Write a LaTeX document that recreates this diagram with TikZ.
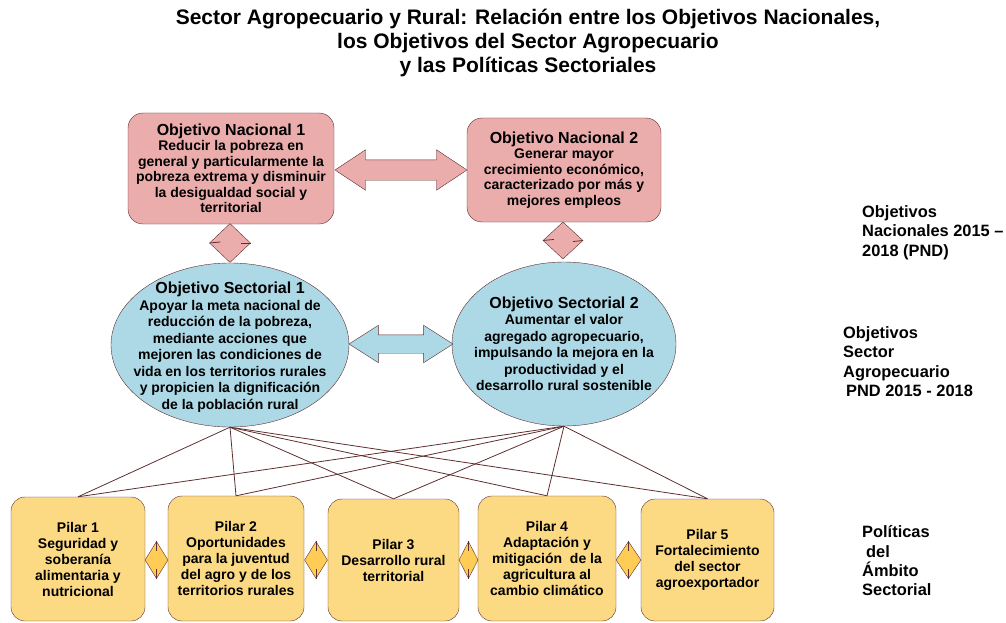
\documentclass[tikz,border=0pt]{standalone}
\usepackage{fontspec}
\setmainfont{Liberation Sans}
\usetikzlibrary{shapes.geometric}
\usetikzlibrary{shapes.arrows}

\definecolor{linebrown}{RGB}{94,46,46}
\definecolor{nacpink}{RGB}{235,172,172}
\definecolor{secblue}{RGB}{173,216,230}
\definecolor{pilaryellow}{RGB}{252,218,132}
\definecolor{joinyellow}{RGB}{255,204,85}

\newcommand{\hdsize}{\fontsize{16}{18}\selectfont}

\begin{document}
\begin{tikzpicture}[x=1pt,y=-1pt,
    nacbox/.style={draw=linebrown,fill=nacpink,rounded corners=15pt,inner sep=0pt,
      align=center,font=\bfseries\fontsize{14}{15.5}\selectfont},
    secoval/.style={draw=linebrown,fill=secblue,ellipse,inner sep=0pt},
    sectext/.style={align=center,inner sep=0pt,font=\bfseries\fontsize{14}{16.5}\selectfont},
    pilarbox/.style={draw=linebrown,fill=pilaryellow,rounded corners=14pt,inner sep=0pt,
      align=center,font=\bfseries\fontsize{14}{16}\selectfont},
    pinkjoin/.style={draw=linebrown,fill=nacpink,diamond,inner sep=0pt,minimum width=41pt,minimum height=39pt},
    yeljoin/.style={draw=linebrown,fill=joinyellow,diamond,inner sep=0pt,minimum width=23pt,minimum height=37pt},
    bothway/.style={draw=linebrown,double arrow,inner xsep=0pt},
    link/.style={draw=linebrown,line width=0.8pt},
    sidelabel/.style={align=left,anchor=west,inner sep=0pt,font=\bfseries\fontsize{16.4}{19.3}\selectfont}]
    \useasboundingbox (0,0) rectangle (1006,623);

    \node[align=center,font=\bfseries\fontsize{21}{24}\selectfont] (title) at (528,42.5)
      {Sector Agropecuario y Rural: Relación entre los Objetivos Nacionales,\\
       los Objetivos del Sector Agropecuario\\ y las Políticas Sectoriales};

    % objetivos nacionales
    \node[nacbox,minimum width=206pt,minimum height=111pt] (on1) at (231,168.5)
      {{\hdsize Objetivo Nacional 1}\\ Reducir la pobreza en\\ general y particularmente la\\
       pobreza extrema y disminuir\\ la desigualdad social y\\ territorial};
    \node[nacbox,minimum width=194pt,minimum height=104pt] (on2) at (564,170)
      {{\hdsize Objetivo Nacional 2}\\ Generar mayor\\ crecimiento económico,\\
       caracterizado por más y\\ mejores empleos};
    \node[bothway,fill=nacpink,inner ysep=10pt,double arrow head extend=10pt,
      minimum height=132pt,double arrow tip angle=67] (nacarrow) at (401,170) {};

    \node[pinkjoin] (d1) at (230,243) {};
    \node[pinkjoin,minimum width=40pt,minimum height=37pt] (d2) at (563,240.5) {};
    \draw[link] (d1.west) -- ++(11,-1);
    \draw[link] (d1.east) -- ++(-10,0);
    \draw[link] (d2.west) -- ++(11,-1);
    \draw[link] (d2.east) -- ++(-10,1);

    % objetivos sectoriales
    \node[secoval,minimum width=238pt,minimum height=164pt] (os1) at (230,345) {};
    \node[sectext] (os1txt) at (230,347)
      {{\hdsize Objetivo Sectorial 1}\\ Apoyar la meta nacional de\\ reducción de la pobreza,\\
       mediante acciones que\\ mejoren las condiciones de\\ vida en los territorios rurales\\
       y propicien la dignificación\\ de la población rural};
    \node[secoval,minimum width=224pt,minimum height=164pt] (os2) at (564,344) {};
    \node[sectext] (os2txt) at (564,344)
      {{\hdsize Objetivo Sectorial 2}\\ Aumentar el valor\\ agregado agropecuario,\\
       impulsando la mejora en la\\ productividad y el\\ desarrollo rural sostenible};
    \node[bothway,fill=secblue,inner ysep=9pt,double arrow head extend=9.5pt,
      minimum height=104pt,double arrow tip angle=65] (secarrow) at (401,344) {};

    % pilares
    \node[pilarbox,minimum width=134pt,minimum height=124pt] (p1) at (78,559)
      {Pilar 1\\ Seguridad y\\ soberanía\\ alimentaria y\\ nutricional};
    \node[pilarbox,minimum width=136pt,minimum height=125pt] (p2) at (236,558.5)
      {Pilar 2\\ Oportunidades\\ para la juventud\\ del agro y de los\\ territorios rurales};
    \node[pilarbox,minimum width=131pt,minimum height=122pt] (p3) at (393.5,560)
      {Pilar 3\\ Desarrollo rural\\ territorial};
    \node[pilarbox,minimum width=138pt,minimum height=125pt] (p4) at (547,558.5)
      {Pilar 4\\ Adaptación y\\ mitigación\ \ de la\\ agricultura al\\ cambio climático};
    \node[pilarbox,minimum width=133pt,minimum height=122pt] (p5) at (707.5,560)
      {Pilar 5\\ Fortalecimiento\\ del sector\\ agroexportador};

    \node[yeljoin] (j1) at (156.5,560) {};
    \node[yeljoin] (j2) at (316,560) {};
    \node[yeljoin,minimum width=19pt] (j3) at (468.5,560) {};
    \node[yeljoin,minimum width=25pt] (j4) at (628.5,560) {};
    \foreach \j in {1,...,4} {
      \draw[link] (j\j.north) -- ++(0,10);
      \draw[link] (j\j.south) -- ++(0,-10);
    }

    \foreach \p in {1,...,5} {
      \draw[link] (os1.south) -- (p\p.north);
      \draw[link] (os2.south) -- (p\p.north);
    }

    % etiquetas de nivel
    \node[sidelabel] (lblnac) at (862,232.5) {Objetivos\\ Nacionales 2015 –\\ 2018 (PND)};
    \node[sidelabel] (lblsec) at (843,361.5) {Objetivos\\ Sector\\ Agropecuario\\ \hspace*{3pt}PND 2015 - 2018};
    \node[sidelabel] (lblpol) at (862,561) {Políticas\\ \hspace*{4pt}del\\ Ámbito\\ Sectorial};
  \end{tikzpicture}
\end{document}
